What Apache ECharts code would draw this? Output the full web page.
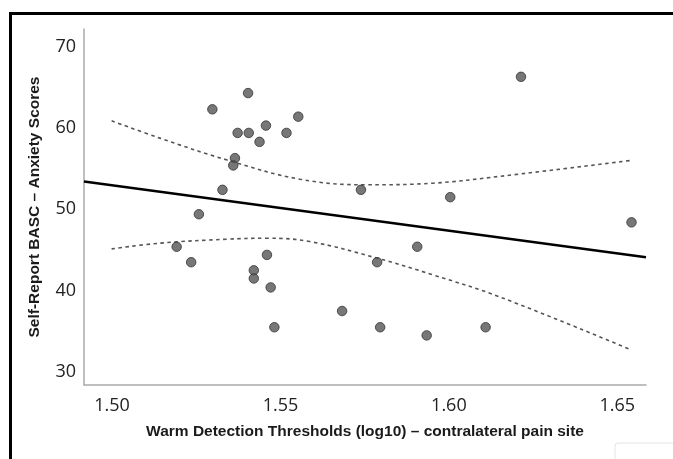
<!DOCTYPE html>
<html>
<head>
<meta charset="utf-8">
<script src="https://cdn.jsdelivr.net/npm/echarts@6/dist/echarts.min.js"></script>
<style>
html,body{margin:0;padding:0;background:#fff;}
#chart{width:673px;height:459px;}
</style>
</head>
<body>
<div id="chart"></div>
<script>
// Scatter data: warm detection threshold (log10) vs anxiety score
const xValues = [1.5404, 1.5298, 1.5553, 1.5457, 1.5373, 1.5406, 1.5518, 1.5438, 1.5365, 1.5360,
                 1.5328, 1.5258, 1.5192, 1.5235, 1.5460, 1.5421, 1.5421, 1.5471, 1.5482, 1.5739,
                 1.6004, 1.5906, 1.5787, 1.5683, 1.5796, 1.5934, 1.6109, 1.6214, 1.6542];
const yValues = [64.3, 62.3, 61.4, 60.3, 59.4, 59.4, 59.4, 58.3, 56.3, 55.4,
                 52.4, 49.4, 45.4, 43.5, 44.4, 42.5, 41.5, 40.4, 35.5, 52.4,
                 51.5, 45.4, 43.5, 37.5, 35.5, 34.5, 35.5, 66.3, 48.4];

// Fit line endpoints
const fitX = [1.4917, 1.6585];
const fitY = [53.42, 44.12];

// Confidence band curves
const upperX = [1.4999, 1.5142, 1.5340, 1.5558, 1.5756, 1.5953, 1.6151, 1.6537];
const upperY = [60.89, 58.76, 56.09, 53.71, 53.02, 53.22, 54.06, 56.00];
const lowerX = [1.4999, 1.5142, 1.5340, 1.5459, 1.5587, 1.5787, 1.5953, 1.6151, 1.6537];
const lowerY = [45.14, 45.84, 46.33, 46.45, 46.04, 44.00, 41.94, 39.23, 32.79];

const xTicks = [1.50, 1.55, 1.60, 1.65];
const yTicks = [30, 40, 50, 60, 70];

const xTitle = 'Warm Detection Thresholds (log10) \u2013 contralateral pain site';
const yTitle = 'Self-Report BASC \u2013 Anxiety Scores';

const zip = (a, b) => a.map((v, i) => [v, b[i]]);

const chart = echarts.init(document.getElementById('chart'), null, {renderer: 'canvas'});
const tickFont = {fontFamily: 'Open Sans', fontSize: 18, color: '#222'};
const titleFont = {fontFamily: 'Liberation Sans', fontSize: 15.5, fontWeight: 'bold', color: '#1a1a1a'};

chart.setOption({
  animation: false,
  backgroundColor: '#fff',
  grid: {left: 84, top: 29, right: 27, bottom: 74, containLabel: false},
  xAxis: {
    type: 'value', min: 1.4917, max: 1.6585,
    name: xTitle, nameLocation: 'middle', nameGap: 39,
    nameTextStyle: titleFont,
    axisLine: {show: true, lineStyle: {color: '#aaa', width: 1.5}},
    axisTick: {show: false},
    splitLine: {show: false},
    axisLabel: Object.assign({customValues: xTicks, margin: 12, formatter: v => v.toFixed(2)}, tickFont)
  },
  yAxis: {
    type: 'value', min: 28.4, max: 72.18,
    name: yTitle, nameLocation: 'middle', nameGap: 41, nameRotate: 90,
    nameTextStyle: titleFont,
    axisLine: {show: true, lineStyle: {color: '#aaa', width: 1.5}},
    axisTick: {show: false},
    splitLine: {show: false},
    axisLabel: Object.assign({customValues: yTicks, margin: 8}, tickFont)
  },
  graphic: [
    {type: 'line', shape: {x1: 10, y1: 13.5, x2: 680, y2: 13.5}, style: {stroke: '#000', lineWidth: 3}},
    {type: 'line', shape: {x1: 10.5, y1: 12, x2: 10.5, y2: 470}, style: {stroke: '#000', lineWidth: 3}},
    {type: 'rect', shape: {x: 615, y: 443, width: 60, height: 30, r: 3}, style: {fill: 'none', stroke: '#e4e4e4', lineWidth: 1}}
  ],
  series: [
    {type: 'line', data: zip(upperX, upperY), smooth: 0.4, symbol: 'none',
     lineStyle: {color: '#555', width: 1.6, type: [3.5, 3.5]}, z: 2},
    {type: 'line', data: zip(lowerX, lowerY), smooth: 0.4, symbol: 'none',
     lineStyle: {color: '#555', width: 1.6, type: [3.5, 3.5]}, z: 2},
    {type: 'line', data: zip(fitX, fitY), symbol: 'none',
     lineStyle: {color: '#000', width: 2.5}, z: 3},
    {type: 'scatter', data: zip(xValues, yValues), symbol: 'circle', symbolSize: 9.5,
     itemStyle: {color: '#555', borderColor: '#333', borderWidth: 1}, z: 4}
  ]
});
</script>
</body>
</html>
